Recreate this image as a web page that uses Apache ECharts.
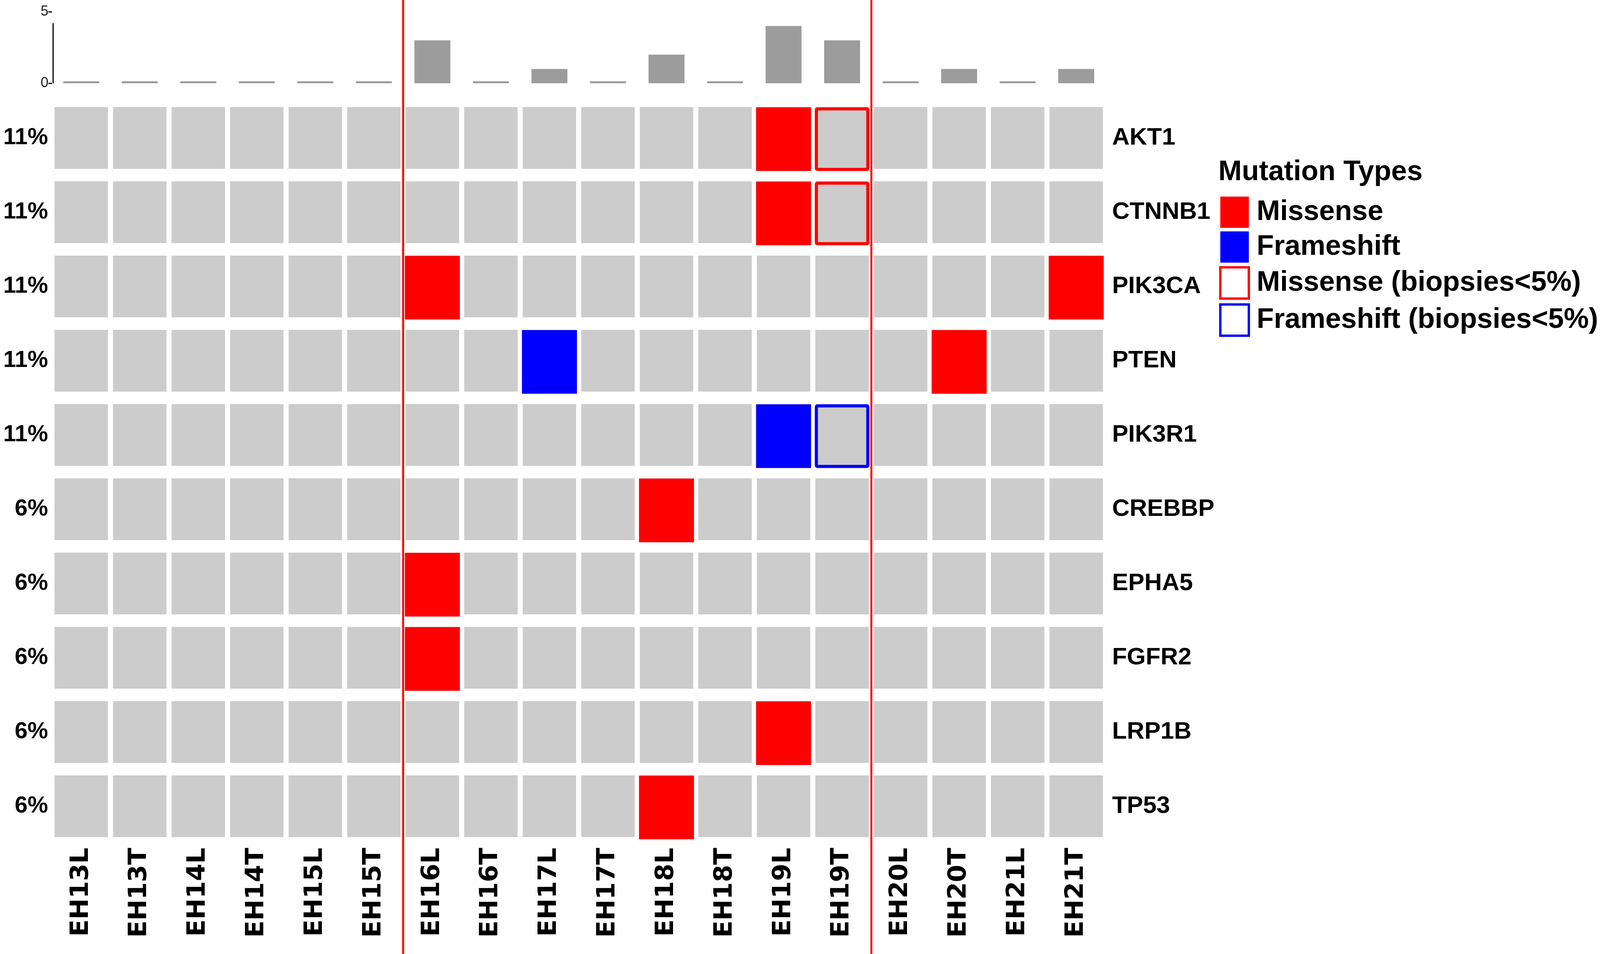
<!DOCTYPE html>
<html lang="en">
<head>
<meta charset="UTF-8" />
<title>Mutation oncoprint</title>
</head>
<body>
<style>
* {
  margin: 0;
  padding: 0;
}
html, body {
  width: 100%;
  height: 100%;
  overflow: hidden;
  background: #fff;
}
#chartEl {
  width: 100vw;
  height: 100vh;
}
</style>
<div id="chartEl"></div>
<script src="https://cdn.jsdelivr.net/npm/echarts@6/dist/echarts.min.js"></script>
<script>
// samples (columns) and genes (rows, top to bottom)
const samples = ['EH13L', 'EH13T', 'EH14L', 'EH14T', 'EH15L', 'EH15T', 'EH16L', 'EH16T', 'EH17L',
  'EH17T', 'EH18L', 'EH18T', 'EH19L', 'EH19T', 'EH20L', 'EH20T', 'EH21L', 'EH21T'];
const genes = ['AKT1', 'CTNNB1', 'PIK3CA', 'PTEN', 'PIK3R1', 'CREBBP', 'EPHA5', 'FGFR2', 'LRP1B', 'TP53'];
const pctLabels = ['11%', '11%', '11%', '11%', '11%', '6%', '6%', '6%', '6%', '6%'];

// mutations per sample (top bar chart)
const mutationCounts = [0, 0, 0, 0, 0, 0, 3, 0, 1, 0, 2, 0, 4, 3, 0, 1, 0, 1];
const countTicks = [0, 5];

// [gene, sample]
const missense = [['AKT1', 'EH19L'], ['CTNNB1', 'EH19L'], ['PIK3CA', 'EH16L'], ['PIK3CA', 'EH21T'],
  ['PTEN', 'EH20T'], ['CREBBP', 'EH18L'], ['EPHA5', 'EH16L'], ['FGFR2', 'EH16L'], ['LRP1B', 'EH19L'],
  ['TP53', 'EH18L']];
const frameshift = [['PTEN', 'EH17L'], ['PIK3R1', 'EH19L']];
const missenseLow = [['AKT1', 'EH19T'], ['CTNNB1', 'EH19T']];
const frameshiftLow = [['PIK3R1', 'EH19T']];

// column boundaries where the patient groups are split
const separators = [6, 14];

const RED = '#ff0000';
const BLUE = '#0000ff';
const CELL = '#cccccc';
const FONT = '"Liberation Sans", Arial, sans-serif';
const FONT_X = '"DejaVu Sans", Verdana, sans-serif';

const el = document.getElementById('chartEl');
// layout was measured on a 4328 x 2441 canvas, scale to whatever we get
const sx = el.clientWidth / 4328;
const sy = el.clientHeight / 2441;
const sf = Math.min(sx, sy);
function X(v) { return Math.round(v * sx); }
function Y(v) { return Math.round(v * sy); }
function F(v) { return Math.round(v * sf); }

function toPoints(list) {
  return list.map(function (d) {
    return [samples.indexOf(d[1]), genes.indexOf(d[0])];
  });
}

const allCells = [];
genes.forEach(function (g, i) {
  samples.forEach(function (s, j) {
    allCells.push([j, i]);
  });
});

function cellRender(params, api) {
  const p = api.coord([api.value(0), api.value(1)]);
  const size = api.size([1, 1]);
  const w = size[0] - X(14);
  const h = size[1] - Y(32);
  return {
    type: 'rect',
    shape: { x: p[0] - w / 2, y: p[1] - h / 2, width: w, height: h },
    style: { fill: CELL }
  };
}

function filledRender(color) {
  return function (params, api) {
    const p = api.coord([api.value(0), api.value(1)]);
    const size = api.size([1, 1]);
    const w = size[0] - X(9);
    const h = size[1] - Y(27);
    return {
      type: 'rect',
      shape: { x: p[0] - w / 2, y: p[1] - h / 2 + Y(3), width: w, height: h },
      style: { fill: color }
    };
  };
}

function hollowRender(color) {
  return function (params, api) {
    const p = api.coord([api.value(0), api.value(1)]);
    const size = api.size([1, 1]);
    const lw = F(8);
    const w = size[0] - X(11) - lw;
    const h = size[1] - Y(27) - lw;
    return {
      type: 'rect',
      shape: { x: p[0] - w / 2, y: p[1] - h / 2 + Y(3), width: w, height: h, r: F(3) },
      style: { fill: CELL, stroke: color, lineWidth: lw }
    };
  };
}

const chart = echarts.init(el, null, { renderer: 'canvas' });

const option = {
  backgroundColor: '#ffffff',
  animation: false,
  textStyle: { fontFamily: FONT },
  title: {
    text: 'Mutation Types',
    left: X(3290),
    top: Y(400),
    textStyle: { fontFamily: FONT, fontSize: F(76), fontWeight: 'bold', color: '#000' }
  },
  legend: {
    orient: 'vertical',
    left: X(3293),
    top: Y(498),
    itemWidth: X(77),
    itemHeight: Y(80),
    itemGap: Y(9),
    selectedMode: false,
    textStyle: {
      fontFamily: FONT, fontSize: F(76), fontWeight: 'bold', color: '#000',
      padding: [0, 0, 0, X(16)]
    },
    data: [
      { name: 'Missense', icon: 'rect', itemStyle: { color: RED } },
      { name: 'Frameshift', icon: 'rect', itemStyle: { color: BLUE } },
      { name: 'Missense (biopsies<5%)', icon: 'rect', itemStyle: { color: '#ffffff', borderColor: RED, borderWidth: F(6) } },
      { name: 'Frameshift (biopsies<5%)', icon: 'rect', itemStyle: { color: '#ffffff', borderColor: BLUE, borderWidth: F(6) } }
    ]
  },
  grid: [
    { left: X(141), width: X(2850), top: Y(30), height: Y(183) },
    { left: X(141), width: X(2850), top: Y(258), height: Y(1900) },
    { left: X(141), width: X(2850), top: 0, bottom: 0 }
  ],
  xAxis: [
    {
      gridIndex: 0,
      type: 'category',
      data: samples,
      axisLine: { show: false },
      axisTick: { show: false },
      axisLabel: { show: false }
    },
    {
      gridIndex: 1,
      type: 'category',
      data: samples,
      position: 'bottom',
      axisLine: { show: false },
      axisTick: { show: false },
      axisLabel: {
        rotate: 90,
        margin: Y(11),
        interval: 0,
        fontFamily: FONT_X,
        fontSize: Math.round(64 * sy),
        fontWeight: 'bold',
        color: '#000'
      }
    },
    {
      gridIndex: 2,
      type: 'value',
      min: 0,
      max: samples.length,
      show: false
    }
  ],
  yAxis: [
    {
      gridIndex: 0,
      type: 'value',
      min: 0,
      max: 5,
      interval: 5,
      splitLine: { show: false },
      axisLine: { show: false },
      axisTick: { show: true, length: X(10), lineStyle: { color: '#000', width: F(3) } },
      axisLabel: {
        margin: X(10),
        fontFamily: FONT,
        fontSize: F(38),
        color: '#222',
        formatter: function (v) { return countTicks.indexOf(v) >= 0 ? String(v) : ''; }
      }
    },
    {
      gridIndex: 1,
      type: 'category',
      data: pctLabels,
      inverse: true,
      position: 'left',
      axisLine: { show: false },
      axisTick: { show: false },
      axisLabel: { margin: X(11), fontFamily: FONT, fontSize: F(62), fontWeight: 'bold', color: '#000' }
    },
    {
      gridIndex: 1,
      type: 'category',
      data: genes,
      inverse: true,
      position: 'right',
      axisLine: { show: false },
      axisTick: { show: false },
      axisLabel: { margin: X(18), fontFamily: FONT, fontSize: F(66), fontWeight: 'bold', color: '#000' }
    },
    {
      gridIndex: 2,
      type: 'value',
      min: 0,
      max: 1,
      show: false
    }
  ],
  series: [
    {
      type: 'bar',
      xAxisIndex: 0,
      yAxisIndex: 0,
      data: mutationCounts,
      barWidth: X(97),
      barMinHeight: Y(5),
      itemStyle: { color: '#9c9c9c' }
    },
    {
      // partial y axis line of the count bars, from 0 up to the largest count
      type: 'custom',
      xAxisIndex: 0,
      yAxisIndex: 0,
      data: [[0, Math.max.apply(null, mutationCounts) + 0.2]],
      renderItem: function (params, api) {
        const top = api.coord([0, api.value(1)]);
        const base = api.coord([0, 0]);
        const x = params.coordSys.x + F(3);
        return {
          type: 'line',
          shape: { x1: x, y1: top[1], x2: x, y2: base[1] },
          style: { stroke: '#000', lineWidth: F(3) }
        };
      },
      silent: true
    },
    {
      type: 'custom',
      xAxisIndex: 1,
      yAxisIndex: 1,
      data: allCells,
      renderItem: cellRender,
      silent: true
    },
    {
      name: 'Missense',
      type: 'custom',
      xAxisIndex: 1,
      yAxisIndex: 1,
      data: toPoints(missense),
      itemStyle: { color: RED },
      renderItem: filledRender(RED),
      z: 3
    },
    {
      name: 'Frameshift',
      type: 'custom',
      xAxisIndex: 1,
      yAxisIndex: 1,
      data: toPoints(frameshift),
      itemStyle: { color: BLUE },
      renderItem: filledRender(BLUE),
      z: 3
    },
    {
      name: 'Missense (biopsies<5%)',
      type: 'custom',
      xAxisIndex: 1,
      yAxisIndex: 1,
      data: toPoints(missenseLow),
      itemStyle: { color: '#ffffff', borderColor: RED, borderWidth: F(6) },
      renderItem: hollowRender(RED),
      z: 3
    },
    {
      name: 'Frameshift (biopsies<5%)',
      type: 'custom',
      xAxisIndex: 1,
      yAxisIndex: 1,
      data: toPoints(frameshiftLow),
      itemStyle: { color: '#ffffff', borderColor: BLUE, borderWidth: F(6) },
      renderItem: hollowRender(BLUE),
      z: 3
    },
    {
      type: 'custom',
      xAxisIndex: 2,
      yAxisIndex: 3,
      data: separators.map(function (s) { return [s]; }),
      renderItem: function (params, api) {
        const a = api.coord([api.value(0), 0]);
        const b = api.coord([api.value(0), 1]);
        return {
          type: 'line',
          shape: { x1: a[0], y1: a[1], x2: b[0], y2: b[1] },
          style: { stroke: RED, lineWidth: F(5) }
        };
      },
      silent: true,
      z: 10
    }
  ]
};

chart.setOption(option);
</script>
</body>
</html>
